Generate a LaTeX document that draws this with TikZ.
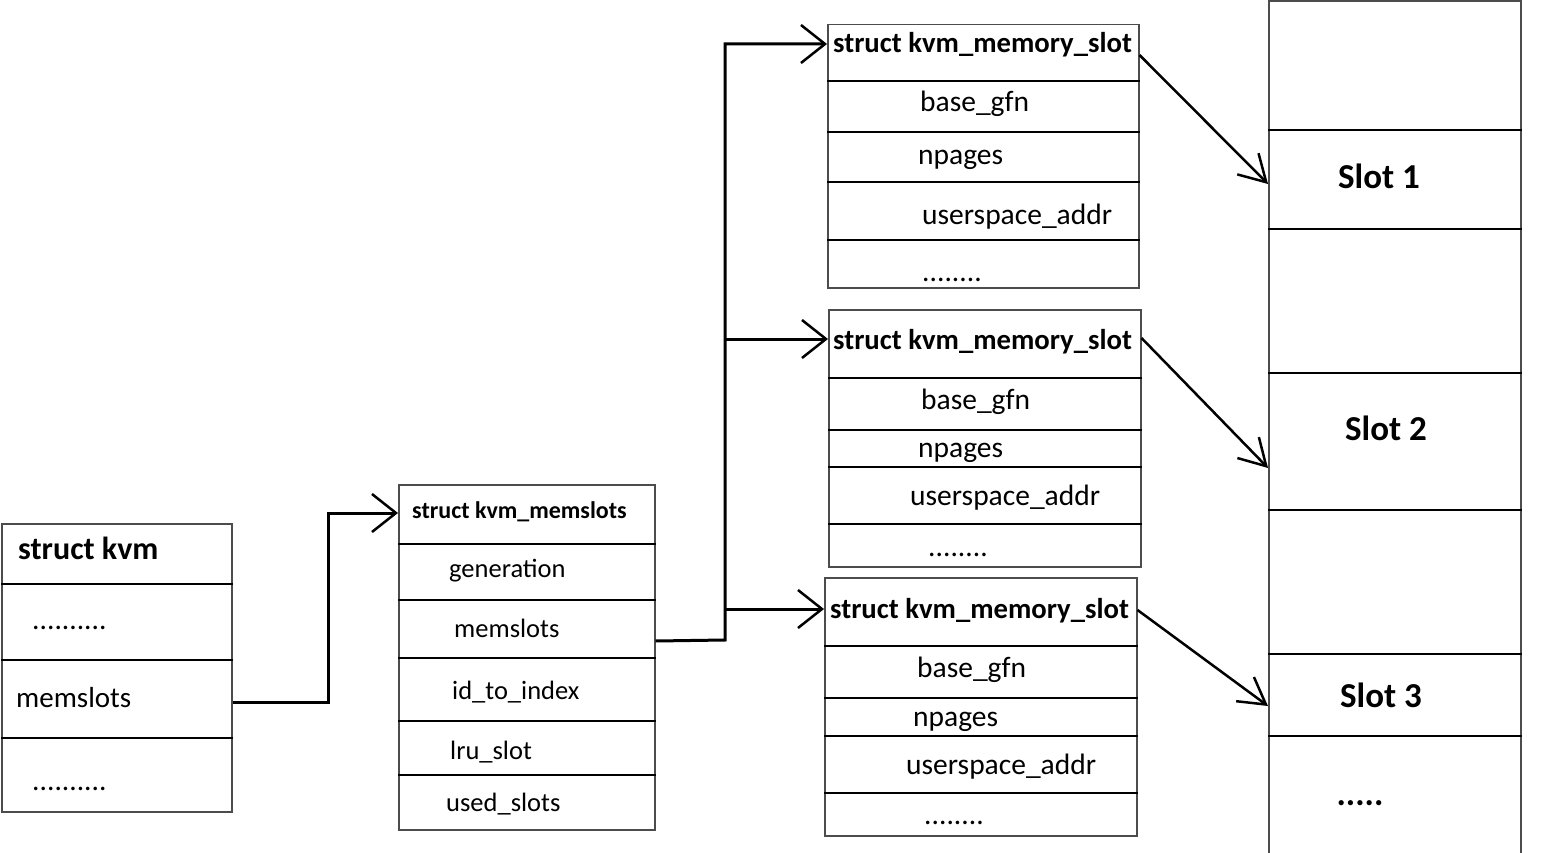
\documentclass[tikz,border=0pt]{standalone}
\usepackage{fontspec}
\setmainfont{Carlito}
\usetikzlibrary{arrows.meta}
\begin{document}
\begin{tikzpicture}[x=1pt,y=-1pt,
  box/.style={draw=black!70, line width=1.5pt, inner sep=0pt, anchor=north west},
  div/.style={draw=black, line width=1.2pt},
  fa/.style={anchor=west, inner sep=0pt, font=\fontsize{29.5}{31}\selectfont, text height=25pt, text depth=7pt},
  fb/.style={anchor=west, inner sep=0pt, font=\fontsize{26.5}{28}\selectfont, text height=22pt, text depth=6pt},
  fk/.style={anchor=west, inner sep=0pt, font=\fontsize{29}{31}\selectfont, text height=24pt, text depth=7pt},
  ta/.style={anchor=west, inner sep=0pt, font=\fontsize{28.7}{30}\selectfont\bfseries, text height=24pt, text depth=7pt},
  tb/.style={anchor=west, inner sep=0pt, font=\fontsize{24}{26}\selectfont\bfseries, text height=21pt, text depth=6pt},
  tk/.style={anchor=west, inner sep=0pt, font=\fontsize{32}{34}\selectfont\bfseries, text height=26pt, text depth=7pt},
  sl/.style={inner sep=0pt, font=\fontsize{35}{37}\selectfont\bfseries},
  conn/.style={draw=black, line width=3pt, line join=miter, -{Straight Barb[length=24pt,width=38pt,line width=2.5pt]}},
  diag/.style={draw=black, line width=2.5pt, -{Straight Barb[length=26pt,width=30pt,line width=2.5pt]}}]
\useasboundingbox (0,0) rectangle (1552,853);

% struct kvm
\node (kvm) [box, minimum width=230pt, minimum height=288pt] at (1,523) {};
\draw[div] (kvm.west |- 0,584) -- (kvm.east |- 0,584);
\draw[div] (kvm.west |- 0,660) -- (kvm.east |- 0,660);
\draw[div] (kvm.west |- 0,738) -- (kvm.east |- 0,738);
\node (kt) [tk] at (18,550) {struct kvm};
\node (kd1) [fa] at (32,620) {..........};
\node (km) [fk] at (16,699) {memslots};
\node (kd2) [fa] at (32,781) {..........};

% struct kvm_memslots
\node (ms) [box, minimum width=256pt, minimum height=345pt] at (398,484) {};
\foreach \y in {544,600,658,721,775}
  \draw[div] (ms.west |- 0,\y) -- (ms.east |- 0,\y);
\node (mst) [tb] at (412,511) {struct kvm\_memslots};
\node (msg) [fb] at (449,569) {generation};
\node (msm) [fb] at (454,629) {memslots};
\node (msi) [fb] at (452,691) {id\_to\_index};
\node (msl) [fb] at (450,751) {lru\_slot};
\node (msu) [fb] at (446,803) {used\_slots};

% memory slot A
\node (A) [box, minimum width=311pt, minimum height=263pt] at (827,24) {};
\foreach \y in {81,132,182,240}
  \draw[div] (A.west |- 0,\y) -- (A.east |- 0,\y);
\node (At) [ta] at (833,44) {struct kvm\_memory\_slot};
\node (Ab) [fa] at (920,103) {base\_gfn};
\node (An) [fa] at (918,156) {npages};
\node (Au) [fa] at (922,215) {userspace\_addr};
\node (Ad) [fa] at (922,272) {........};

% memory slot B
\node (B) [box, minimum width=312pt, minimum height=257pt] at (828,309) {};
\foreach \y in {378,430,467,524}
  \draw[div] (B.west |- 0,\y) -- (B.east |- 0,\y);
\node (Bt) [ta] at (833,341) {struct kvm\_memory\_slot};
\node (Bb) [fa] at (921,400) {base\_gfn};
\node (Bn) [fa] at (918,448) {npages};
\node (Bu) [fa] at (910,496) {userspace\_addr};
\node (Bd) [fa] at (928,547) {........};

% memory slot C
\node (C) [box, minimum width=312pt, minimum height=258pt] at (824,577) {};
\foreach \y in {646,698,736,793}
  \draw[div] (C.west |- 0,\y) -- (C.east |- 0,\y);
\node (Ct) [ta] at (830,610) {struct kvm\_memory\_slot};
\node (Cb) [fa] at (917,668) {base\_gfn};
\node (Cn) [fa] at (913,717) {npages};
\node (Cu) [fa] at (906,765) {userspace\_addr};
\node (Cd) [fa] at (924,815) {........};

% memory column
\node (mem) [box, minimum width=252pt, minimum height=852pt] at (1268,0.5) {};
\foreach \y in {130,229,373,510,654,736}
  \draw[div] (mem.west |- 0,\y) -- (mem.east |- 0,\y);
\node (s1) [sl] at (1379,176) {Slot 1};
\node (s2) [sl] at (1386,428) {Slot 2};
\node (s3) [sl] at (1381,695) {Slot 3};
\node (s4) [sl] at (1360,803) {.....};

% connectors
\draw[conn] (kvm.east |- 0,702) -- (328,702) |- (ms.west |- 0,513);
\coordinate (j) at (725,640);
\draw[conn] (ms.east |- 0,641) -- (j) |- (A.west |- 0,44);
\draw[conn] (j |- 0,339) -- (B.west |- 0,339);
\draw[conn] (j |- 0,609) -- (C.west |- 0,609);

\draw[diag] (A.east |- 0,55) -- (mem.west |- 0,184);
\draw[diag] (B.east |- 0,338) -- (mem.west |- 0,468);
\draw[diag] (C.east |- 0,610) -- (mem.west |- 0,706);
\end{tikzpicture}
\end{document}
